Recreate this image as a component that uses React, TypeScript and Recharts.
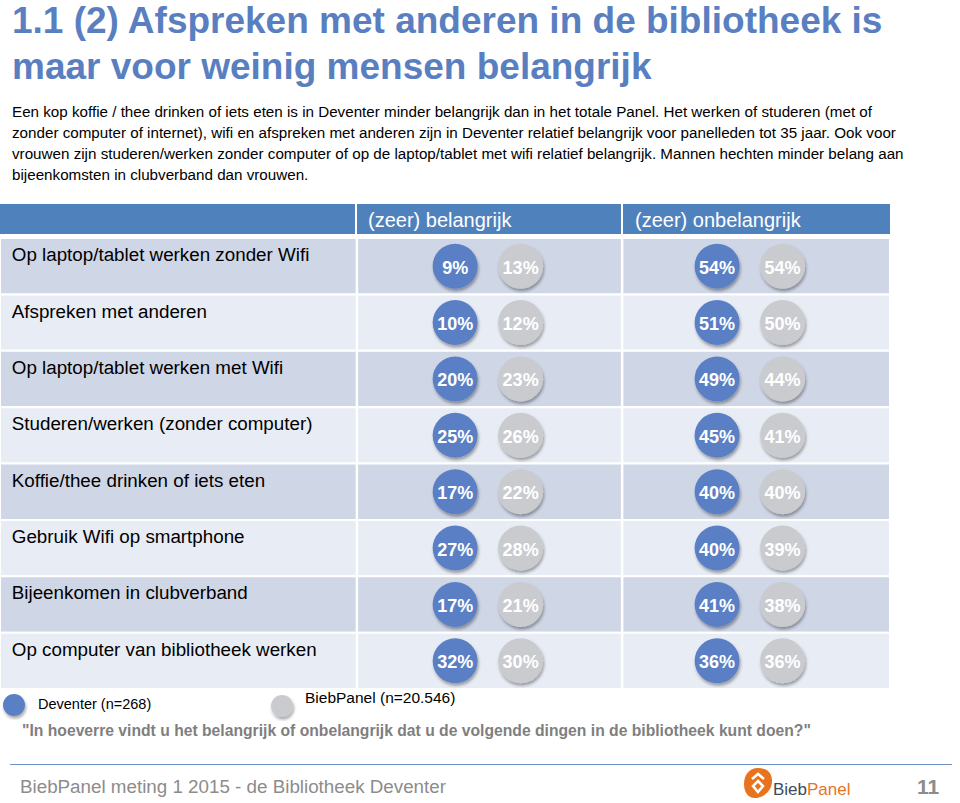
import { ReferenceArea, ReferenceLine, Scatter, ScatterChart, XAxis, YAxis } from "recharts";

const ROWS = [
  "Op laptop/tablet werken zonder Wifi",
  "Afspreken met anderen",
  "Op laptop/tablet werken met Wifi",
  "Studeren/werken (zonder computer)",
  "Koffie/thee drinken of iets eten",
  "Gebruik Wifi op smartphone",
  "Bijeenkomen in clubverband",
  "Op computer van bibliotheek werken",
];

const DEVENTER_BELANGRIJK = [9, 10, 20, 25, 17, 27, 17, 32];
const PANEL_BELANGRIJK = [13, 12, 23, 26, 22, 28, 21, 30];
const DEVENTER_ONBELANGRIJK = [54, 51, 49, 45, 40, 40, 41, 36];
const PANEL_ONBELANGRIJK = [54, 50, 44, 41, 40, 39, 38, 36];

const COLUMN_HEADERS = ["(zeer) belangrijk", "(zeer) onbelangrijk"];

const BODY_LINES = [
  "Een kop koffie / thee drinken of iets eten is in Deventer minder belangrijk dan in het totale Panel. Het werken of studeren (met of",
  "zonder computer of internet), wifi en afspreken met anderen zijn in Deventer relatief belangrijk voor panelleden tot 35 jaar. Ook voor",
  "vrouwen zijn studeren/werken zonder computer of op de laptop/tablet met wifi relatief belangrijk. Mannen hechten minder belang aan",
  "bijeenkomsten in clubverband dan vrouwen.",
];

const FONT = '"Liberation Sans", Arial, Helvetica, sans-serif';
const BLUE = "#5a7fc5";
const GREY = "#c9cbcf";
const HEADER = "#4f81bd";
const ROW_DARK = "#cfd6e6";
const ROW_LIGHT = "#e8ecf4";

// x = 0 is the first column divider, one unit ~ 65.5px
const X_DOMAIN = [-5.45, 8.14];
const COLUMN_X = [1.5, 2.5, 5.5, 6.5];
const LABEL_X = -5.27;
const DIVIDERS = [0, 4.05];

const SERIES = [
  { key: "db", values: DEVENTER_BELANGRIJK, color: BLUE },
  { key: "pb", values: PANEL_BELANGRIJK, color: GREY },
  { key: "do", values: DEVENTER_ONBELANGRIJK, color: BLUE },
  { key: "po", values: PANEL_ONBELANGRIJK, color: GREY },
];

function Bubble(props: any) {
  const { cx, cy, payload, color } = props;
  return (
    <g>
      <circle cx={cx} cy={cy} r={22.5} fill={color} filter="url(#bubbleShadow)" />
      <text
        x={cx}
        y={cy}
        dy={7.5}
        textAnchor="middle"
        fill="#fff"
        fontWeight="bold"
        fontSize={18}
        fontFamily={FONT}
      >
        {payload.value}%
      </text>
    </g>
  );
}

function RowLabel(props: any) {
  const { cx, cy, payload } = props;
  return (
    <text x={cx} y={cy - 5} textAnchor="start" fontSize={18.8} fill="#000" fontFamily={FONT}>
      {payload.label}
    </text>
  );
}

function Logo() {
  return (
    <div style={{ position: "absolute", left: 743, top: 767, display: "flex", alignItems: "flex-end" }}>
      <svg width={30} height={32}>
        <path
          d="M15 1 C24 1 29 6 29 14 C29 24 20 31 12 31 C5 31 1 25 1 17 C1 8 6 1 15 1 Z"
          fill="#e8731f"
        />
        <path d="M9 12 L15 7 L21 12" stroke="#fff" strokeWidth={2.5} fill="none" />
        <path d="M15 14 L20 19 L15 25 L10 19 Z" stroke="#fff" strokeWidth={2.5} fill="none" />
      </svg>
      <span style={{ fontSize: 17, fontFamily: FONT, lineHeight: "18px" }}>
        <span style={{ color: "#3d4a5d" }}>Bieb</span>
        <span style={{ color: "#e8731f" }}>Panel</span>
      </span>
    </div>
  );
}

export default function App() {
  const rowIndex = ROWS.map((_, i) => i);
  return (
    <div
      style={{
        position: "absolute",
        left: 0,
        top: 0,
        width: 960,
        height: 803,
        background: "#fff",
        fontFamily: FONT,
        overflow: "hidden",
      }}
    >
      <svg width={0} height={0} style={{ position: "absolute" }}>
        <defs>
          <filter id="bubbleShadow" x="-40%" y="-40%" width="180%" height="180%">
            <feDropShadow dx={1} dy={2.5} stdDeviation={1.8} floodColor="#000" floodOpacity={0.35} />
          </filter>
        </defs>
      </svg>

      <div
        style={{
          position: "absolute",
          left: 12,
          top: -2,
          fontSize: 37,
          fontWeight: "bold",
          lineHeight: "46px",
          color: "#5a7fc1",
          whiteSpace: "nowrap",
        }}
      >
        <div>1.1 (2) Afspreken met anderen in de bibliotheek is</div>
        <div>maar voor weinig mensen belangrijk</div>
      </div>

      <div
        style={{
          position: "absolute",
          left: 12,
          top: 101,
          fontSize: 15.2,
          lineHeight: "21px",
          color: "#000",
          whiteSpace: "nowrap",
        }}
      >
        {BODY_LINES.map((l) => (
          <div key={l}>{l}</div>
        ))}
      </div>

      <div style={{ position: "absolute", left: 0, top: 204, width: 355, height: 30, background: HEADER }} />
      <div style={{ position: "absolute", left: 357, top: 204, width: 264, height: 30, background: HEADER }} />
      <div style={{ position: "absolute", left: 623, top: 204, width: 267, height: 30, background: HEADER }} />
      {COLUMN_HEADERS.map((h, i) => (
        <div
          key={h}
          style={{
            position: "absolute",
            left: i === 0 ? 368 : 635,
            top: 204,
            height: 30,
            lineHeight: "32px",
            fontSize: 20,
            color: "#fff",
            whiteSpace: "nowrap",
          }}
        >
          {h}
        </div>
      ))}

      <div style={{ position: "absolute", left: 0, top: 238 }}>
        <ScatterChart width={890} height={451} margin={{ top: 0, right: 0, bottom: 0, left: 0 }}>
          <XAxis type="number" dataKey="x" domain={X_DOMAIN} allowDataOverflow hide />
          <YAxis
            type="number"
            dataKey="y"
            domain={[-0.5, ROWS.length - 0.5]}
            allowDataOverflow
            reversed
            hide
          />
          {rowIndex.map((i) => (
            <ReferenceArea
              key={`row-${i}`}
              x1={X_DOMAIN[0]}
              x2={X_DOMAIN[1]}
              y1={i - 0.5}
              y2={i + 0.5}
              fill={i % 2 === 0 ? ROW_DARK : ROW_LIGHT}
              fillOpacity={1}
              stroke="#fff"
              strokeWidth={2}
              ifOverflow="hidden"
            />
          ))}
          {DIVIDERS.map((d) => (
            <ReferenceLine key={`div-${d}`} x={d} stroke="#fff" strokeWidth={2.5} />
          ))}
          <Scatter
            data={ROWS.map((label, i) => ({ x: LABEL_X, y: i, label }))}
            isAnimationActive={false}
            shape={(p: any) => <RowLabel {...p} />}
          />
          {SERIES.map((s, si) => (
            <Scatter
              key={s.key}
              data={s.values.map((v, i) => ({ x: COLUMN_X[si], y: i, value: v }))}
              isAnimationActive={false}
              shape={(p: any) => <Bubble {...p} color={s.color} />}
            />
          ))}
        </ScatterChart>
      </div>

      <svg width={30} height={30} style={{ position: "absolute", left: 0, top: 690 }}>
        <circle cx={14} cy={15} r={11} fill={BLUE} filter="url(#bubbleShadow)" />
      </svg>
      <div style={{ position: "absolute", left: 38, top: 695, fontSize: 14.5, lineHeight: "18px", whiteSpace: "nowrap" }}>
        Deventer (n=268)
      </div>
      <svg width={30} height={30} style={{ position: "absolute", left: 268, top: 691 }}>
        <circle cx={14} cy={15} r={11} fill={GREY} filter="url(#bubbleShadow)" />
      </svg>
      <div style={{ position: "absolute", left: 305, top: 689, fontSize: 15.5, lineHeight: "18px", whiteSpace: "nowrap" }}>
        BiebPanel (n=20.546)
      </div>

      <div
        style={{
          position: "absolute",
          left: 22,
          top: 721,
          fontSize: 15.7,
          lineHeight: "20px",
          fontWeight: "bold",
          color: "#7f7f7f",
          whiteSpace: "nowrap",
        }}
      >
        "In hoeverre vindt u het belangrijk of onbelangrijk dat u de volgende dingen in de bibliotheek kunt doen?"
      </div>

      <div style={{ position: "absolute", left: 10, top: 764, width: 942, borderTop: "1.5px solid #6f8fc7" }} />
      <div
        style={{
          position: "absolute",
          left: 20,
          top: 776,
          fontSize: 18.8,
          lineHeight: "22px",
          color: "#8c8c8c",
          whiteSpace: "nowrap",
        }}
      >
        BiebPanel meting 1 2015 - de Bibliotheek Deventer
      </div>
      <Logo />
      <div
        style={{
          position: "absolute",
          left: 917,
          top: 775,
          fontSize: 21,
          lineHeight: "24px",
          color: "#8c8c8c",
          fontWeight: "bold",
        }}
      >
        11
      </div>
    </div>
  );
}
